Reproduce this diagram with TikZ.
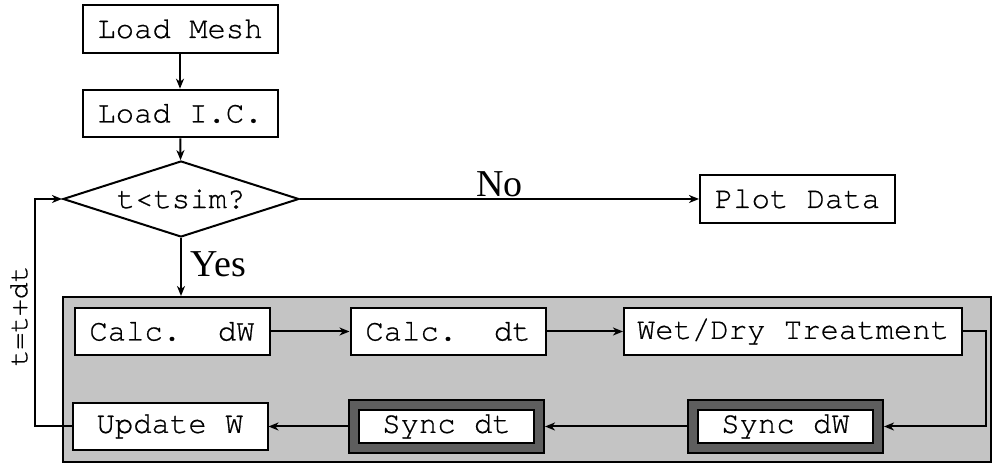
\documentclass[tikz,border=0pt]{standalone}
\usepackage{fontspec}
\setmainfont{Liberation Serif}
\newfontfamily\monofont[FakeBold=0.6]{texgyrecursor-regular.otf}
\usetikzlibrary{shapes.geometric,arrows.meta}
\definecolor{panelgray}{HTML}{C4C4C4}
\definecolor{syncgray}{HTML}{5E5E5E}
\begin{document}
\begin{tikzpicture}[x=0.5pt,y=-0.5pt,
  every node/.style={font=\monofont\fontsize{15.3pt}{18pt}\selectfont},
  stepbox/.style={draw=black,line width=1pt,fill=white,inner sep=0pt,
    minimum width=97.5pt,minimum height=23.8pt},
  syncouter/.style={draw=black,line width=1pt,fill=syncgray,inner sep=0pt,
    minimum width=97.5pt,minimum height=26.5pt},
  syncinner/.style={draw=black,line width=1pt,fill=white,inner sep=0pt,
    minimum width=87.5pt,minimum height=16.8pt},
  decision/.style={draw=black,line width=1pt,fill=white,diamond,aspect=3,
    inner sep=0pt,minimum width=118pt,minimum height=38pt},
  flow/.style={line width=1pt,-{Stealth[length=5pt,width=4pt,inset=1.5pt]}},
  lbl/.style={font=\fontsize{19pt}{21pt}\selectfont}]
\useasboundingbox (0,0) rectangle (992,464);

% shaded region holding one time step
\node[draw=black,line width=1pt,fill=panelgray,inner sep=0pt,
  minimum width=464pt,minimum height=82.5pt] (panel) at (527,379.5) {};

% set-up and loop test
\node[stepbox] (mesh) at (180,29) {Load Mesh};
\node[stepbox] (ic) at (180,113.5) {Load I.C.};
\node[decision] (test) at (181,199) {t<tsim?};
\node[stepbox] (plot) at (797.5,199) {Plot Data};

% steps inside one iteration
\node[stepbox] (cdw) at (172,331.5) {Calc.\ \ dW};
\node[stepbox] (cdt) at (448,331.5) {Calc.\ \ dt};
\node[stepbox,minimum width=169pt] (wet) at (793,331.5) {Wet/Dry Treatment};
\node[syncouter] (sdwo) at (785.5,426.5) {};
\node[syncinner] (sdw) at (785.5,426.5) {Sync dW};
\node[syncouter] (sdto) at (446.5,426.5) {};
\node[syncinner] (sdt) at (446.5,426.5) {Sync dt};
\node[stepbox] (upd) at (170,426.5) {Update W};

% connectors
\draw[flow] (mesh) -- (ic);
\draw[flow] (ic) -- (test);
\draw[flow] (test.east) -- (plot.west) node[lbl,midway,above=-3pt] (no) {No};
\draw[flow] (test.south) -- (test.south |- panel.north)
  node[lbl,pos=0.45,right=1pt] (yes) {Yes};
\draw[flow] (cdw) -- (cdt);
\draw[flow] (cdt) -- (wet);
\coordinate (wetturn) at (986,331.5);
\draw[flow] (wet.east) -- (wetturn) |- (sdwo.east);
\draw[flow] (sdwo.west) -- (sdto.east);
\draw[flow] (sdto.west) -- (upd.east);
\coordinate (loopx) at (35,426.5);
\draw[flow] (upd.west) -- (loopx) |- (test.west);
\node[rotate=90,font=\monofont\fontsize{14pt}{16pt}\selectfont]
  (incr) at (19,316) {t=t+dt};
\end{tikzpicture}
\end{document}
